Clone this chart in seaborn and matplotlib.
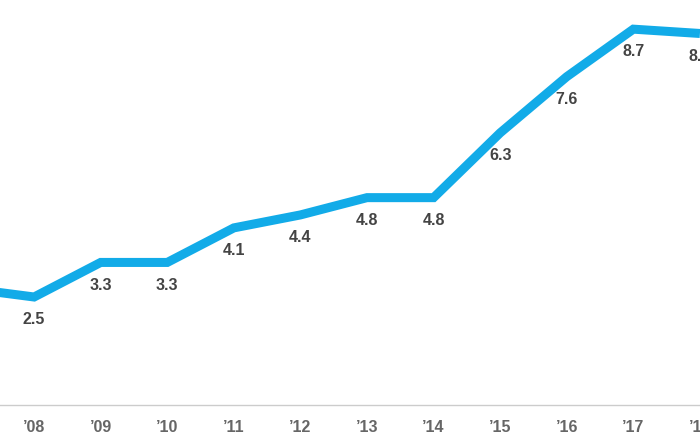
import numpy as np
import pandas as pd
import matplotlib
matplotlib.use("Agg")
import matplotlib.pyplot as plt
import seaborn as sns

years = ["’07", "’08", "’09", "’10", "’11", "’12", "’13", "’14", "’15", "’16", "’17", "’18"]
values = [2.7, 2.5, 3.3, 3.3, 4.1, 4.4, 4.8, 4.8, 6.3, 7.6, 8.7, 8.6]

sns.set_style("white")
plt.rcParams["font.family"] = ["Liberation Sans", "DejaVu Sans"]

df = pd.DataFrame({"pos": np.arange(len(years)), "value": values})

fig = plt.figure(figsize=(7, 4.4), dpi=100)
ax = fig.add_axes([0, 35 / 440, 1, 405 / 440])
sns.lineplot(data=df, x="pos", y="value", ax=ax, color="#12ABE8", linewidth=6.5,
             solid_joinstyle="miter", solid_capstyle="butt")

# labels just under each point; the first one sits off the left edge
for x, v in zip(df["pos"], df["value"]):
    ax.annotate(f"{v:.1f}", (x, v), xytext=(0, -11), textcoords="offset points",
                ha="center", va="top", fontsize=11.5, fontweight="bold", color="#444444",
                annotation_clip=False)

ax.set_xticks(df["pos"])
ax.set_xticklabels(years, fontsize=11.5, fontweight="bold", color="#666666")
ax.set_xlim(0.488, 11.001)
ax.set_ylim(0, 9.375)
ax.tick_params(axis="x", length=0, pad=11)
ax.set_yticks([])
ax.set_xlabel("")
ax.set_ylabel("")
for s in ["top", "left", "right"]:
    ax.spines[s].set_visible(False)
ax.spines["bottom"].set_color("#cccccc")
ax.spines["bottom"].set_linewidth(1)

fig.savefig("out.png", dpi=100)
plt.close(fig)
